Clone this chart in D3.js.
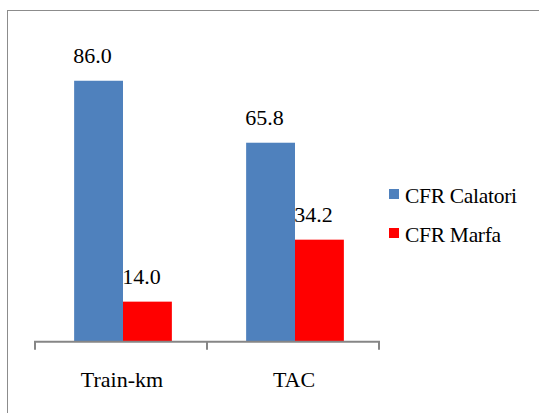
<!DOCTYPE html>
<html><head><meta charset="utf-8">
<script src="https://cdn.jsdelivr.net/npm/d3@7"></script>
</head><body style="margin:0">
<script>
const categories = ["Train-km", "TAC"];
const seriesNames = ["CFR Calatori", "CFR Marfa"];
const calatori = [86.0, 65.8];
const marfa = [14.0, 34.2];
const colors = ["#4f81bd", "#ff0000"];

const W = 539, H = 413;
const svg = d3.select("body").append("svg").attr("width", W).attr("height", H);

function serif(sel, size) {
  return sel.attr("font-family", "Times New Roman")
    .style("font-family", '"Times New Roman", Tinos, "Liberation Serif", serif')
    .style("font-size", size + "px");
}

svg.append("rect").attr("x", 7.5).attr("y", 10.5).attr("width", 560).attr("height", 440)
  .attr("fill", "#fff").attr("stroke", "#8c8c8c").attr("stroke-width", 1);

const axisY = 341.7;
const x0 = d3.scaleBand().domain(categories).range([35, 379]).padding(0);
const x1 = d3.scaleBand().domain(seriesNames).range([2, x0.bandwidth() + 2]).paddingOuter(0.76).paddingInner(0);
const y = d3.scaleLinear().domain([0, 100]).range([344.6, 37.8]);

const data = categories.map((c, i) => ({cat: c, vals: [
  {s: seriesNames[0], v: calatori[i], c: colors[0]},
  {s: seriesNames[1], v: marfa[i], c: colors[1]}
]}));

const g = svg.selectAll("g.cat").data(data).enter().append("g")
  .attr("transform", d => `translate(${x0(d.cat)},0)`);

g.selectAll("rect").data(d => d.vals).enter().append("rect")
  .attr("x", d => x1(d.s)).attr("width", x1.bandwidth())
  .attr("y", d => y(d.v)).attr("height", d => axisY - y(d.v))
  .attr("fill", d => d.c);

serif(g.selectAll("text").data(d => d.vals).enter().append("text"), 22)
  .attr("x", d => x1(d.s) + x1.bandwidth() / 2 - 6)
  .attr("y", d => y(d.v) - 18)
  .attr("text-anchor", "middle")
  .attr("fill", "#000")
  .text(d => d3.format(".1f")(d.v));

const axis = d3.axisBottom(x0).tickSize(8).tickSizeOuter(8).tickFormat("");
const ax = svg.append("g").attr("transform", `translate(0,${axisY})`).call(axis);
ax.select(".domain").attr("stroke", "#868686").attr("stroke-width", 2)
  .attr("d", `M${x0.range()[0]},8V0H${x0.range()[1]}V8`);
ax.selectAll(".tick line").remove();
const tickXs = categories.slice(1).map(c => x0(c));
ax.selectAll("line.sep").data(tickXs).enter().append("line").attr("class", "sep")
  .attr("x1", d => d).attr("x2", d => d).attr("y1", 0).attr("y2", 8)
  .attr("stroke", "#868686").attr("stroke-width", 2);

serif(svg.selectAll("text.cat").data(categories).enter().append("text"), 22)
  .attr("x", d => x0(d) + x0.bandwidth() / 2 + 1)
  .attr("y", 387)
  .attr("text-anchor", "middle")
  .attr("fill", "#000")
  .text(d => d);

const lg = svg.selectAll("g.leg").data(seriesNames).enter().append("g")
  .attr("transform", (d, i) => `translate(389,${189 + i * 39})`);
lg.append("rect").attr("width", 10).attr("height", 10).attr("fill", (d, i) => colors[i]);
serif(lg.append("text"), 21.5).attr("x", 16).attr("y", 14)
  .attr("fill", "#000")
  .style("letter-spacing", "-0.3px")
  .text(d => d);
</script>
</body></html>
